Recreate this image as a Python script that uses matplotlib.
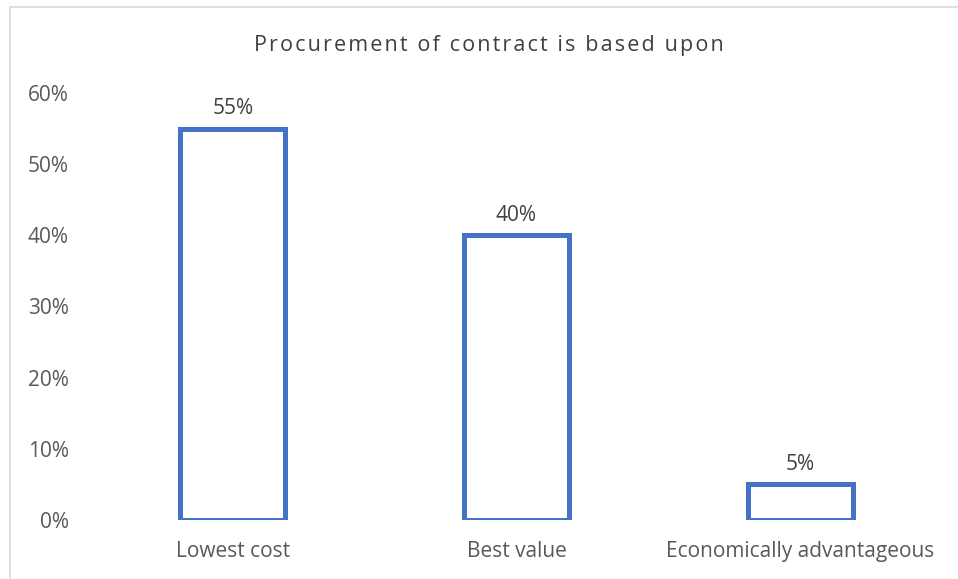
import matplotlib.pyplot as plt
from matplotlib.patches import Rectangle
from matplotlib.ticker import PercentFormatter

plt.rcParams['font.family'] = ['Open Sans', 'DejaVu Sans']

categories = ['Lowest cost', 'Best value', 'Economically advantageous']
shares = [55, 40, 5]
labels = ['55%', '40%', '5%']
title = 'Procurement of contract is based upon'

W, H = 958, 579
fig = plt.figure(figsize=(W / 100, H / 100), dpi=100)

# light chart-area frame, running off the right and bottom edges
fig.patches.append(Rectangle((10 / W, -0.2), 2, 1.2 - 7 / H, transform=fig.transFigure,
                             fill=False, edgecolor='#d9d9d9', linewidth=1.2))

ax = fig.add_axes([91 / W, 1 - 520 / H, 851 / W, 427 / H])
x = range(len(categories))
bars = ax.bar(x, shares, width=0.37, facecolor='white', edgecolor='#4472C4', linewidth=3.6)

for b, t in zip(bars, labels):
    ax.annotate(t, (b.get_x() + b.get_width() / 2, b.get_height()), xytext=(0, 7),
                textcoords='offset points', ha='center', va='bottom',
                fontsize=15, color='#404040')

ax.set_xlim(-0.5, 2.5)
ax.set_ylim(0, 60)
ax.set_yticks(range(0, 61, 10))
ax.yaxis.set_major_formatter(PercentFormatter(decimals=0))
ax.set_xticks(list(x))
ax.set_xticklabels(categories)
ax.tick_params(length=0, labelsize=15, labelcolor='#595959')
ax.tick_params(axis='x', pad=15)
ax.tick_params(axis='y', pad=16)
for s in ax.spines.values():
    s.set_visible(False)

# slightly tracked-out title: hair spaces between all characters
spaced = '\u200a'.join(title)
fig.text(489 / W, 1 - 45 / H, spaced, ha='center', va='center',
         fontsize=15.5, color='#404040')

fig.savefig('out.png', dpi=100)
